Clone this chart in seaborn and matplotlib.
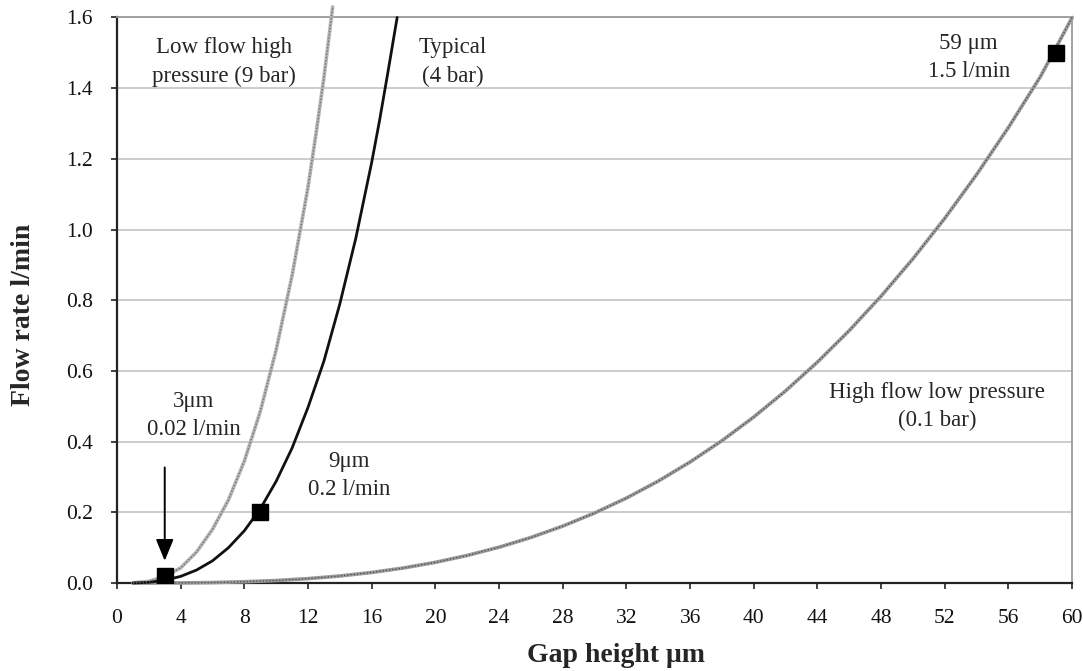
import matplotlib
matplotlib.use("Agg")
import matplotlib.pyplot as plt
import seaborn as sns
import pandas as pd

# Flow rate (l/min) against gap height (um) for three supply pressures
gap_9bar = [1, 2, 3, 4, 5, 6, 7, 8, 9, 10, 11, 12, 12.5, 13, 13.55]
flow_9bar = [0.001, 0.005, 0.019, 0.043, 0.088, 0.152, 0.235, 0.345, 0.485, 0.66, 0.87, 1.12, 1.27, 1.43, 1.63]

gap_4bar = [1, 2, 3, 4, 5, 6, 7, 8, 9, 10, 11, 12, 13, 14, 15, 16, 16.5, 17, 17.6]
flow_4bar = [0.0003, 0.0023, 0.008, 0.019, 0.037, 0.063, 0.10, 0.148, 0.21, 0.288, 0.382, 0.497, 0.628, 0.79, 0.975, 1.19, 1.31, 1.44, 1.60]

gap_01bar = [1, 2, 4, 6, 8, 10, 12, 14, 16, 18, 20, 22, 24, 26, 28, 30, 32, 34, 36, 38,
             40, 42, 44, 46, 48, 50, 52, 54, 56, 58, 60]
flow_01bar = [0.0, 0.0001, 0.0005, 0.0016, 0.0038, 0.0073, 0.0127, 0.0201, 0.0301, 0.0428,
              0.0587, 0.0782, 0.1015, 0.129, 0.1611, 0.1982, 0.2405, 0.2885, 0.3425, 0.4028,
              0.4698, 0.5438, 0.6252, 0.7144, 0.8118, 0.9175, 1.032, 1.1558, 1.289, 1.4322, 1.60]

# Highlighted operating points
point_gap = [3, 9, 59]
point_flow = [0.02, 0.2, 1.5]

x_ticks = list(range(0, 61, 4))
y_ticks = [0.0, 0.2, 0.4, 0.6, 0.8, 1.0, 1.2, 1.4, 1.6]

sns.set_theme(style="white")
plt.rcParams["font.family"] = ["Liberation Serif", "DejaVu Serif"]

fig = plt.figure(figsize=(10.83, 6.71), dpi=100)
ax = fig.add_axes([0.108, 0.131, 0.882, 0.843])

df = pd.concat([
    pd.DataFrame({"gap": gap_01bar, "flow": flow_01bar, "curve": "0.1 bar"}),
    pd.DataFrame({"gap": gap_9bar, "flow": flow_9bar, "curve": "9 bar"}),
    pd.DataFrame({"gap": gap_4bar, "flow": flow_4bar, "curve": "4 bar"}),
])

for name, base, lw, over in [("0.1 bar", "#9a9a9a", 2.6, "#4a4a4a"),
                             ("9 bar", "#b4b4b4", 2.6, "#6a6a6a"),
                             ("4 bar", "#111111", 2.0, None)]:
    sub = df[df["curve"] == name]
    sns.lineplot(data=sub, x="gap", y="flow", ax=ax, color=base, lw=lw,
                 sort=False, estimator=None, legend=False, clip_on=False, zorder=3)
    if over:
        ax.plot(sub["gap"], sub["flow"], color=over, lw=0.9, ls=(0, (1, 1.6)),
                clip_on=False, zorder=4)

ax.plot(point_gap, point_flow, ls="none", marker="s", ms=11, color="black", zorder=6)

# Arrow pointing at the 3 um point
ax.annotate("", xy=(3.0, 0.055), xytext=(3.0, 0.335),
            arrowprops=dict(arrowstyle="-|>,head_width=0.45,head_length=1.1",
                            color="black", lw=1.4), zorder=7)

fs = 16.5
ls_ = 1.45
ax.text(6.75, 1.474, "Low flow high\npressure (9 bar)", ha="center", va="center",
        fontsize=fs, linespacing=ls_)
ax.text(21.1, 1.474, "Typical\n(4 bar)", ha="center", va="center", fontsize=fs, linespacing=ls_)
ax.text(53.5, 1.487, "59 \u03bcm\n1.5 l/min", ha="center", va="center", fontsize=fs, linespacing=ls_)
ax.text(51.5, 0.50, "High flow low pressure\n(0.1 bar)", ha="center", va="center",
        fontsize=fs, linespacing=ls_)
ax.text(4.8, 0.475, "3\u03bcm\n0.02 l/min", ha="center", va="center", fontsize=fs, linespacing=ls_)
ax.text(14.6, 0.305, "9\u03bcm\n0.2 l/min", ha="center", va="center", fontsize=fs, linespacing=ls_)

ax.set_xlim(0, 60)
ax.set_ylim(0, 1.6)
ax.set_xticks(x_ticks)
ax.set_yticks(y_ticks)
ax.set_yticklabels([f"{v:.1f}" for v in y_ticks])
ax.grid(axis="y", color="#c8c8c8", lw=1.3)
ax.grid(axis="x", visible=False)
ax.set_axisbelow(True)

for side in ["left", "bottom"]:
    ax.spines[side].set_color("#222222")
    ax.spines[side].set_linewidth(1.6)
for side in ["top", "right"]:
    ax.spines[side].set_color("#9a9a9a")
    ax.spines[side].set_linewidth(1.3)

ax.tick_params(axis="both", which="major", direction="out", length=4.5, width=1.2,
               color="#222222", labelsize=15.5, labelcolor="#111111")
ax.tick_params(axis="x", pad=14)
ax.tick_params(axis="y", pad=13)
ax.tick_params(bottom=True, left=True)

ax.set_xlabel("Gap height \u03bcm", fontsize=20, fontweight="bold")
ax.xaxis.set_label_coords(0.522, -0.106)
ax.set_ylabel("Flow rate l/min", fontsize=20, fontweight="bold")
ax.yaxis.set_label_coords(-0.085, 0.4735)

fig.savefig("out.png", dpi=100)
